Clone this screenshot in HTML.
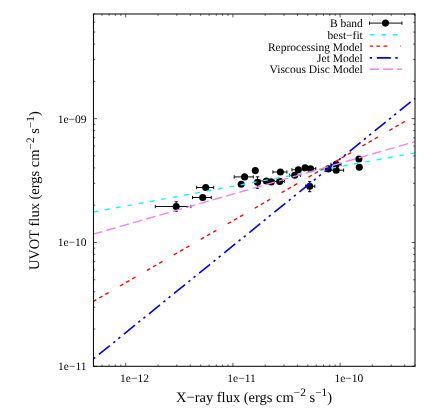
<!DOCTYPE html>
<html><head><meta charset="utf-8"><title>plot</title>
<style>
html,body{margin:0;padding:0;background:#fff;}
body{width:436px;height:415px;overflow:hidden;}
svg{display:block;will-change:transform;}
text{text-rendering:geometricPrecision;}
text{font-family:"Liberation Serif",serif;fill:#000;}
</style></head><body>
<svg width="436" height="415" viewBox="0 0 436 415">
<rect width="436" height="415" fill="#fff"/>
<path d="M93.45 366.30v-1.8M93.45 14.00v1.8M101.94 366.30v-1.8M101.94 14.00v1.8M109.11 366.30v-1.8M109.11 14.00v1.8M115.33 366.30v-1.8M115.33 14.00v1.8M120.81 366.30v-1.8M120.81 14.00v1.8M125.72 366.30v-3.5M125.72 14.00v3.5M157.98 366.30v-1.8M157.98 14.00v1.8M176.85 366.30v-1.8M176.85 14.00v1.8M190.25 366.30v-1.8M190.25 14.00v1.8M200.63 366.30v-1.8M200.63 14.00v1.8M209.12 366.30v-1.8M209.12 14.00v1.8M216.30 366.30v-1.8M216.30 14.00v1.8M222.51 366.30v-1.8M222.51 14.00v1.8M227.99 366.30v-1.8M227.99 14.00v1.8M232.90 366.30v-3.5M232.90 14.00v3.5M265.16 366.30v-1.8M265.16 14.00v1.8M284.04 366.30v-1.8M284.04 14.00v1.8M297.43 366.30v-1.8M297.43 14.00v1.8M307.82 366.30v-1.8M307.82 14.00v1.8M316.30 366.30v-1.8M316.30 14.00v1.8M323.48 366.30v-1.8M323.48 14.00v1.8M329.69 366.30v-1.8M329.69 14.00v1.8M335.18 366.30v-1.8M335.18 14.00v1.8M340.08 366.30v-3.5M340.08 14.00v3.5M372.35 366.30v-1.8M372.35 14.00v1.8M391.22 366.30v-1.8M391.22 14.00v1.8M404.61 366.30v-1.8M404.61 14.00v1.8M415.00 366.30v-1.8M415.00 14.00v1.8M93.45 366.30h3.5M415.00 366.30h-3.5M93.45 329.02h1.8M415.00 329.02h-1.8M93.45 307.22h1.8M415.00 307.22h-1.8M93.45 291.75h1.8M415.00 291.75h-1.8M93.45 279.75h1.8M415.00 279.75h-1.8M93.45 269.94h1.8M415.00 269.94h-1.8M93.45 261.65h1.8M415.00 261.65h-1.8M93.45 254.47h1.8M415.00 254.47h-1.8M93.45 248.14h1.8M415.00 248.14h-1.8M93.45 242.47h3.5M415.00 242.47h-3.5M93.45 205.20h1.8M415.00 205.20h-1.8M93.45 183.39h1.8M415.00 183.39h-1.8M93.45 167.92h1.8M415.00 167.92h-1.8M93.45 155.92h1.8M415.00 155.92h-1.8M93.45 146.12h1.8M415.00 146.12h-1.8M93.45 137.83h1.8M415.00 137.83h-1.8M93.45 130.65h1.8M415.00 130.65h-1.8M93.45 124.31h1.8M415.00 124.31h-1.8M93.45 118.65h3.5M415.00 118.65h-3.5M93.45 81.37h1.8M415.00 81.37h-1.8M93.45 59.57h1.8M415.00 59.57h-1.8M93.45 44.09h1.8M415.00 44.09h-1.8M93.45 32.09h1.8M415.00 32.09h-1.8M93.45 22.29h1.8M415.00 22.29h-1.8M93.45 14.00h1.8M415.00 14.00h-1.8" stroke="#000" stroke-width="0.65" fill="none"/>
<path d="M155.3 206.5H190.9M155.3 204.85v3.3M190.9 204.85v3.3M176.2 201.8V211.2M174.54999999999998 201.8h3.3M174.54999999999998 211.2h3.3M192.5 197.5H211.3M192.5 195.85v3.3M211.3 195.85v3.3M196.6 187.5H213.7M196.6 185.85v3.3M213.7 185.85v3.3M234.2 176.9H253.3M234.2 175.25v3.3M253.3 175.25v3.3M257.5 176.8V188.3M255.85 176.8h3.3M255.85 188.3h3.3M260.0 181.0H272.0M260.0 179.35v3.3M272.0 179.35v3.3M274.5 181.4H284.4M274.5 179.75v3.3M284.4 179.75v3.3M272.9 172.0H286.9M272.9 170.35v3.3M286.9 170.35v3.3M289.6 175.3H300.6M289.6 173.65v3.3M300.6 173.65v3.3M291.9 169.8H304.0M291.9 168.15v3.3M304.0 168.15v3.3M305.0 168.7H315.8M305.0 167.04999999999998v3.3M315.8 167.04999999999998v3.3M305.6 186.3H314.8M305.6 184.65v3.3M314.8 184.65v3.3M309.7 181.6V191.7M308.05 181.6h3.3M308.05 191.7h3.3M330.9 164.4H341.0M330.9 162.75v3.3M341.0 162.75v3.3M329.5 170.2H343.6M329.5 168.54999999999998v3.3M343.6 168.54999999999998v3.3M369.5 23.1H401.9M369.5 21.450000000000003v3.3M401.9 21.450000000000003v3.3" stroke="#000" stroke-width="0.95" fill="none"/>
<circle cx="176.2" cy="206.5" r="3.55" fill="#000"/><circle cx="202.7" cy="197.5" r="3.55" fill="#000"/><circle cx="205.7" cy="187.5" r="3.55" fill="#000"/><circle cx="241.2" cy="184.2" r="3.55" fill="#000"/><circle cx="244.6" cy="176.9" r="3.55" fill="#000"/><circle cx="255.3" cy="170.6" r="3.55" fill="#000"/><circle cx="257.5" cy="182.3" r="3.55" fill="#000"/><circle cx="266.4" cy="181.0" r="3.55" fill="#000"/><circle cx="271.2" cy="181.9" r="3.55" fill="#000"/><circle cx="279.7" cy="181.4" r="3.55" fill="#000"/><circle cx="280.4" cy="172.0" r="3.55" fill="#000"/><circle cx="294.7" cy="175.3" r="3.55" fill="#000"/><circle cx="298.3" cy="169.8" r="3.55" fill="#000"/><circle cx="305.1" cy="167.8" r="3.55" fill="#000"/><circle cx="310.5" cy="168.7" r="3.55" fill="#000"/><circle cx="309.7" cy="186.3" r="3.55" fill="#000"/><circle cx="328.3" cy="168.9" r="3.55" fill="#000"/><circle cx="336.2" cy="164.4" r="3.55" fill="#000"/><circle cx="336.2" cy="170.2" r="3.55" fill="#000"/><circle cx="358.9" cy="159.0" r="3.55" fill="#000"/><circle cx="359.3" cy="167.2" r="3.55" fill="#000"/><circle cx="385.5" cy="23.1" r="3.55" fill="#000"/>
<path d="M93.45 211.9L415.0 152.8" stroke="#00ffff" stroke-width="1.35" stroke-dasharray="4.7 6.82" stroke-dashoffset="0.1" fill="none"/>
<path d="M369.8 34.7H401.9" stroke="#00ffff" stroke-width="1.35" stroke-dasharray="4.7 6.82" stroke-dashoffset="0.1" fill="none"/>
<path d="M93.45 301.3L415.0 115.6" stroke="#ff0000" stroke-width="1.35" stroke-dasharray="3.8 3.3 3.8 3.3 3.8 13.1" stroke-dashoffset="0.5" fill="none"/>
<path d="M369.8 46.15H401.0" stroke="#ff0000" stroke-width="1.35" stroke-dasharray="3.8 3.3 3.8 3.3 3.8 13.1" stroke-dashoffset="0.5" fill="none"/>
<path d="M93.45 358.8L415.0 98.3" stroke="#0000ff" stroke-width="1.6" stroke-dasharray="14.1 4.4 2.4 4.2 2.4 4.77" stroke-dashoffset="25.3" fill="none"/>
<path d="M369.8 57.9H401.9" stroke="#0000ff" stroke-width="1.6" stroke-dasharray="14.1 4.4 2.4 4.2 2.4 4.77" stroke-dashoffset="25.3" fill="none"/>
<path d="M93.45 234.2L415.0 141.7" stroke="#ee82ee" stroke-width="1.35" stroke-dasharray="9.6 4.23" stroke-dashoffset="0.4" fill="none"/>
<path d="M369.8 69.2H401.9" stroke="#ee82ee" stroke-width="1.35" stroke-dasharray="9.6 4.23" stroke-dashoffset="0.4" fill="none"/>
<rect x="93.45" y="14.0" width="321.55" height="352.30" fill="none" stroke="#000" stroke-width="1.0"/>
<text x="362.8" y="26.95" font-size="11.5" text-anchor="end">B band</text>
<text x="362.8" y="38.9" font-size="11.5" text-anchor="end">best−fit</text>
<text x="362.8" y="50.5" font-size="11.5" text-anchor="end">Reprocessing Model</text>
<text x="362.8" y="62.0" font-size="11.5" text-anchor="end">Jet Model</text>
<text x="362.8" y="73.0" font-size="11.5" text-anchor="end">Viscous Disc Model</text>
<text x="86.5" y="122.65" font-size="11.5" text-anchor="end">1e−09</text>
<text x="86.5" y="246.47" font-size="11.5" text-anchor="end">1e−10</text>
<text x="86.5" y="370.30" font-size="11.5" text-anchor="end">1e−11</text>
<text x="120.12" y="382" font-size="11.5">1e−12</text>
<text x="227.30" y="382" font-size="11.5">1e−11</text>
<text x="334.48" y="382" font-size="11.5">1e−10</text>
<text x="176.0" y="401.6" font-size="14.5">X−ray flux (ergs cm<tspan font-size="11.3" dy="-5.4">−2</tspan><tspan dy="5.4"> s</tspan><tspan font-size="11.3" dy="-5.4">−1</tspan><tspan dy="5.4">)</tspan></text>
<text transform="translate(39.2,270.1) rotate(-90)" font-size="14.5">UVOT flux (ergs cm<tspan font-size="11.3" dy="-5.4">−2</tspan><tspan dy="5.4"> s</tspan><tspan font-size="11.3" dy="-5.4">−1</tspan><tspan dy="5.4">)</tspan></text>
</svg></body></html>
